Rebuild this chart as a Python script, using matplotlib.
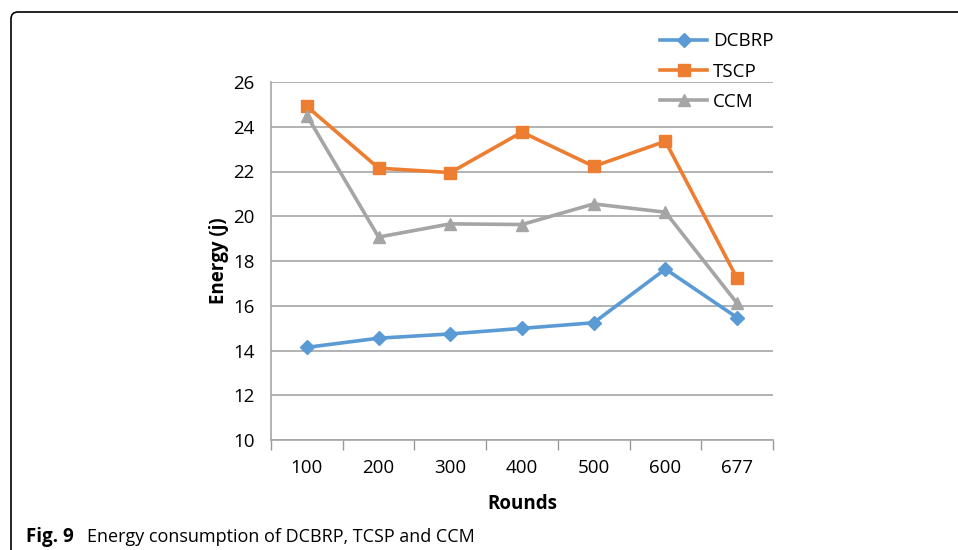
import matplotlib
matplotlib.use("Agg")
import matplotlib.pyplot as plt
from matplotlib.path import Path
from matplotlib.patches import PathPatch

rounds = ["100", "200", "300", "400", "500", "600", "677"]
dcbrp = [14.14, 14.55, 14.74, 14.99, 15.24, 17.64, 15.47]
tscp = [24.91, 22.15, 21.95, 23.76, 22.23, 23.35, 17.22]
ccm = [24.50, 19.07, 19.66, 19.63, 20.55, 20.18, 16.11]
series_names = ["DCBRP", "TSCP", "CCM"]
y_ticks = [10, 12, 14, 16, 18, 20, 22, 24, 26]

plt.rcParams['font.family'] = ['Open Sans', 'DejaVu Sans']

W, H = 958, 550
fig = plt.figure(figsize=(W / 100, H / 100), dpi=100)
ax = fig.add_axes([271 / W, 1 - 440 / H, 502 / W, 358 / H])

x = list(range(len(rounds)))
lw = 2.6
ax.plot(x, dcbrp, color="#5B9BD5", lw=lw, marker="D", ms=7.0, label=series_names[0], zorder=3)
ax.plot(x, tscp, color="#ED7D31", lw=lw, marker="s", ms=8.0, label=series_names[1], zorder=3)
ax.plot(x, ccm, color="#A5A5A5", lw=lw, marker="^", ms=8.5, label=series_names[2], zorder=3)

ax.set_xlim(-0.5, len(rounds) - 0.5)
ax.set_ylim(10, 26)
ax.set_yticks(y_ticks)
ax.set_xticks(x)
ax.set_xticklabels(rounds)
ax.set_xticks([i - 0.5 for i in range(len(rounds) + 1)], minor=True)
ax.tick_params(axis="x", which="major", length=0, labelsize=13.5, pad=14)
ax.tick_params(axis="x", which="minor", length=7, width=1, color="#999999", direction="out")
ax.tick_params(axis="y", length=0, labelsize=13.5, pad=12)
ax.yaxis.grid(True, color="#A6A6A6", lw=1.2)
ax.set_axisbelow(True)
for s in ["top", "right"]:
    ax.spines[s].set_visible(False)
for s in ["left", "bottom"]:
    ax.spines[s].set_color("#A6A6A6")
    ax.spines[s].set_linewidth(1.2)

ax.set_ylabel("Energy (j)", fontsize=13.5, fontweight="bold", labelpad=3)
ax.set_xlabel("Rounds", fontsize=13.5, fontweight="bold", labelpad=12)

leg = fig.legend(loc="upper left", bbox_to_anchor=(651 / W, 1 - 23 / H), frameon=False,
                 fontsize=13.5, handlelength=2.5, labelspacing=0.65, handletextpad=0.3,
                 borderpad=0)

# rounded border
r = 7
bx, by = 11, 12
verts = [(bx / W, 0.0), (bx / W, 1 - (by + r) / H), (bx / W, 1 - by / H), ((bx + r) / W, 1 - by / H), (1.0, 1 - by / H)]
codes = [Path.MOVETO, Path.LINETO, Path.CURVE3, Path.CURVE3, Path.LINETO]
fig.patches.append(PathPatch(Path(verts, codes), transform=fig.transFigure, fill=False,
                             edgecolor="black", lw=1.2))

fig.text(26 / W, 1 - 537 / H, "Fig. 9", fontsize=13.5, fontweight="bold", va="center", ha="left")
fig.text(87 / W, 1 - 537 / H, "Energy consumption of DCBRP, TCSP and CCM", fontsize=13,
         va="center", ha="left")

fig.savefig("out.png", dpi=100)
